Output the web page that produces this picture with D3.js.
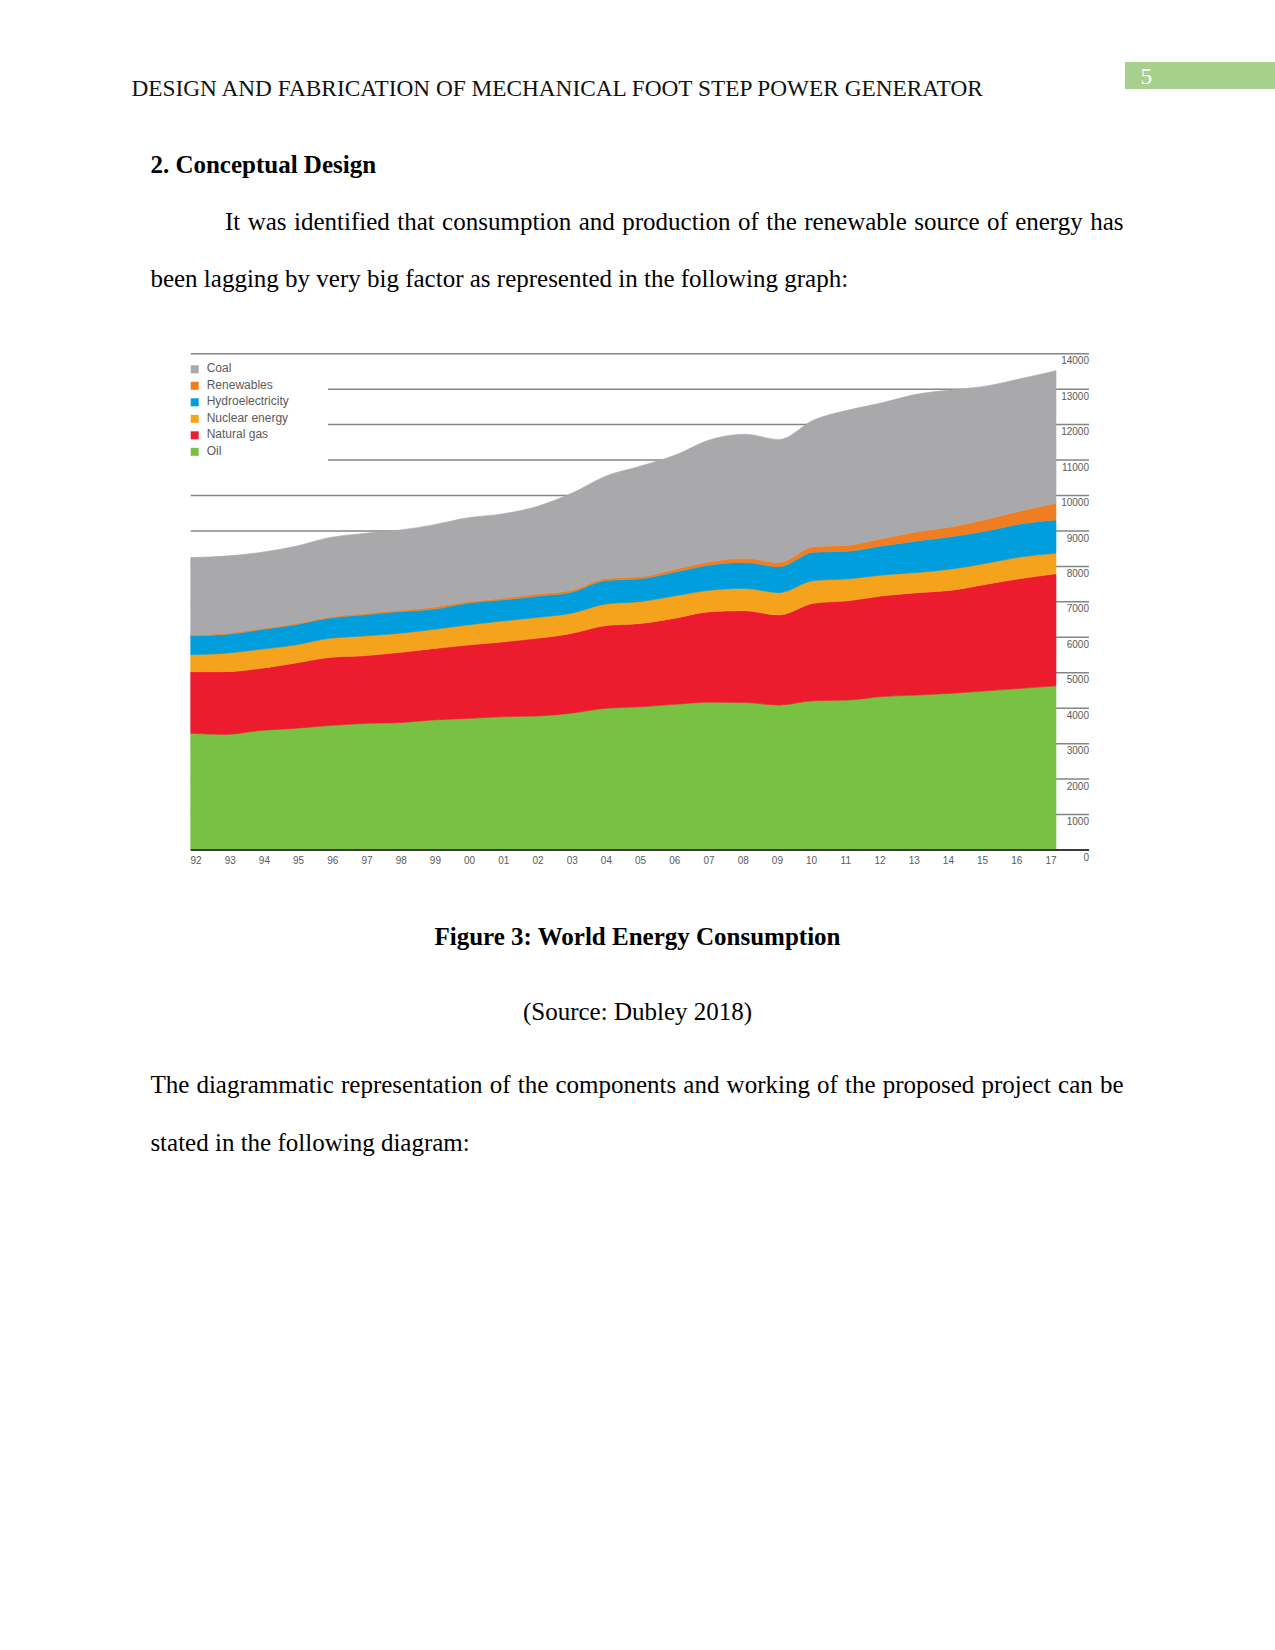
<!DOCTYPE html>
<html>
<head>
<meta charset="utf-8">
<script src="https://cdn.jsdelivr.net/npm/d3@7"></script>
<style>
  html, body { margin: 0; padding: 0; background: #ffffff; }
  svg { display: block; }
</style>
</head>
<body>
<div id="page"></div>
<script>
// ---------------- DATA ----------------
const years = ["92","93","94","95","96","97","98","99","00","01","02","03","04","05","06","07","08","09","10","11","12","13","14","15","16","17"];
const oil        = [3290,3260,3370,3430,3510,3570,3590,3670,3710,3760,3780,3860,4000,4040,4110,4170,4160,4090,4210,4230,4330,4370,4420,4490,4560,4630];
const naturalGas = [1740,1770,1750,1840,1920,1910,1980,2010,2070,2110,2190,2250,2330,2350,2430,2550,2590,2540,2750,2800,2840,2890,2910,3010,3100,3160];
const nuclear    = [480,520,540,510,540,560,540,540,570,590,590,570,610,620,630,610,630,630,640,620,590,570,600,590,610,580];
const hydro      = [530,530,550,570,570,590,610,570,610,590,600,590,660,640,670,710,730,730,800,780,820,890,910,910,930,940];
const renewables = [30,30,30,30,30,40,40,60,40,50,60,60,60,60,80,90,120,120,160,170,210,260,280,330,370,470];
const coal       = [2180,2180,2150,2180,2240,2260,2260,2320,2370,2380,2470,2730,2890,3120,3220,3440,3500,3470,3570,3810,3830,3880,3860,3760,3730,3740];

const stackKeys   = ["Oil","Natural gas","Nuclear energy","Hydroelectricity","Renewables","Coal"];
const legendOrder = ["Coal","Renewables","Hydroelectricity","Nuclear energy","Natural gas","Oil"];
const seriesColors = ["#78c143","#ec1b2e","#f5a31c","#009edd","#f07d22","#a9a9ac"];
const yTicks = [0,1000,2000,3000,4000,5000,6000,7000,8000,9000,10000,11000,12000,13000,14000];

const headerText = "DESIGN AND FABRICATION OF MECHANICAL FOOT STEP POWER GENERATOR";
const pageNumber = "5";
const heading = "2. Conceptual Design";
const para1 = ["It was identified that consumption and production of the renewable source of energy has",
               "been lagging by very big factor as represented in the following graph:"];
const caption = "Figure 3: World Energy Consumption";
const source = "(Source: Dubley 2018)";
const para2 = ["The diagrammatic representation of the components and working of the proposed project can be",
               "stated in the following diagram:"];

// ---------------- PAGE ----------------
const W = 1275, H = 1650;
const svg = d3.select("#page").append("svg").attr("width", W).attr("height", H);
svg.append("rect").attr("width", W).attr("height", H).attr("fill", "#ffffff");

const serif = "'Liberation Serif', 'Times New Roman', serif";
const sans = "'Liberation Sans', Arial, Helvetica, sans-serif";

// header
svg.append("text").attr("x", 131.5).attr("y", 96)
  .attr("font-family", serif).attr("font-size", 23.3).attr("fill", "#111")
  .text(headerText);
svg.append("rect").attr("x", 1125).attr("y", 62).attr("width", 150).attr("height", 27).attr("fill", "#a8d08d");
svg.append("text").attr("x", 1140.5).attr("y", 83.5)
  .attr("font-family", serif).attr("font-size", 23.3).attr("fill", "#ffffff")
  .text(pageNumber);

// heading
svg.append("text").attr("x", 150.4).attr("y", 172.5)
  .attr("font-family", serif).attr("font-size", 25).attr("font-weight", "bold").attr("fill", "#000")
  .text(heading);

function justified(str, x0, x1, y) {
  const t = svg.append("text").attr("x", x0).attr("y", y)
    .attr("font-family", serif).attr("font-size", 25).attr("fill", "#000")
    .text(str);
  const natural = t.node().getComputedTextLength();
  const spaces = (str.match(/ /g) || []).length;
  if (spaces > 0) t.attr("word-spacing", ((x1 - x0) - natural) / spaces);
  return t;
}
function plain(str, x, y, opts = {}) {
  return svg.append("text").attr("x", x).attr("y", y)
    .attr("font-family", serif).attr("font-size", 25)
    .attr("font-weight", opts.bold ? "bold" : "normal")
    .attr("text-anchor", opts.anchor || "start").attr("fill", "#000")
    .text(str);
}

justified(para1[0], 225, 1123.5, 229.5);
plain(para1[1], 150.4, 287);

plain(caption, 637.5, 945, {bold: true, anchor: "middle"});
plain(source, 637.5, 1020, {anchor: "middle"});

justified(para2[0], 150.4, 1123.5, 1093);
plain(para2[1], 150.4, 1150.5);

// ---------------- CHART ----------------
const plotLeft = 190.7, plotRight = 1056, axisRight = 1089;
const yTop = 353.7, yBase = 850;

const x = d3.scalePoint().domain(years).range([plotLeft, plotRight]);
const xLab = d3.scalePoint().domain(years).range([196, 1051]);
const y = d3.scaleLinear().domain([0, 14000]).range([yBase, yTop]);
const color = d3.scaleOrdinal().domain(stackKeys).range(seriesColors);

const table = years.map((yr, i) => ({
  year: yr,
  "Oil": oil[i],
  "Natural gas": naturalGas[i],
  "Nuclear energy": nuclear[i],
  "Hydroelectricity": hydro[i],
  "Renewables": renewables[i],
  "Coal": coal[i]
}));
const stacked = d3.stack().keys(stackKeys)(table);

const chart = svg.append("g");

// gridlines
chart.selectAll("line.grid").data(yTicks.filter(v => v > 0)).join("line")
  .attr("class", "grid")
  .attr("x1", v => (v >= 11000 && v <= 13000) ? 328 : plotLeft)
  .attr("x2", axisRight)
  .attr("y1", v => y(v)).attr("y2", v => y(v))
  .attr("stroke", "#858585").attr("stroke-width", 1.5);

// areas
const area = d3.area()
  .x(d => x(d.data.year))
  .y0(d => y(d[0]))
  .y1(d => y(d[1]))
  .curve(d3.curveMonotoneX);

chart.selectAll("path.layer").data(stacked).join("path")
  .attr("class", "layer")
  .attr("d", area)
  .attr("fill", d => color(d.key))
  .attr("stroke", d => color(d.key))
  .attr("stroke-width", 0.6);

// baseline
chart.append("line")
  .attr("x1", plotLeft).attr("x2", axisRight)
  .attr("y1", y(0)).attr("y2", y(0))
  .attr("stroke", "#3a3a3a").attr("stroke-width", 2.2);

// y labels (right side, below each line)
chart.selectAll("text.ylab").data(yTicks).join("text")
  .attr("class", "ylab")
  .attr("x", axisRight).attr("y", v => y(v) + 8)
  .attr("dominant-baseline", "middle").attr("text-anchor", "end")
  .attr("font-family", sans).attr("font-size", 10).attr("fill", "#5a5a5a")
  .text(v => v);

// x labels
chart.selectAll("text.xlab").data(years).join("text")
  .attr("class", "xlab")
  .attr("x", d => xLab(d)).attr("y", 861)
  .attr("dominant-baseline", "middle").attr("text-anchor", "middle")
  .attr("font-family", sans).attr("font-size", 10).attr("fill", "#5a5a5a")
  .text(d => d);

// legend
const legend = chart.append("g");
const lg = legend.selectAll("g").data(legendOrder).join("g")
  .attr("transform", (d, i) => `translate(${plotLeft},${369.3 + i * 16.5})`);
lg.append("rect").attr("x", 0).attr("y", -4).attr("width", 8).attr("height", 8)
  .attr("fill", d => color(d));
lg.append("text").attr("x", 16).attr("y", 0).attr("dominant-baseline", "middle")
  .attr("font-family", sans).attr("font-size", 12).attr("fill", "#5a5a5a")
  .text(d => d);
</script>
</body>
</html>
